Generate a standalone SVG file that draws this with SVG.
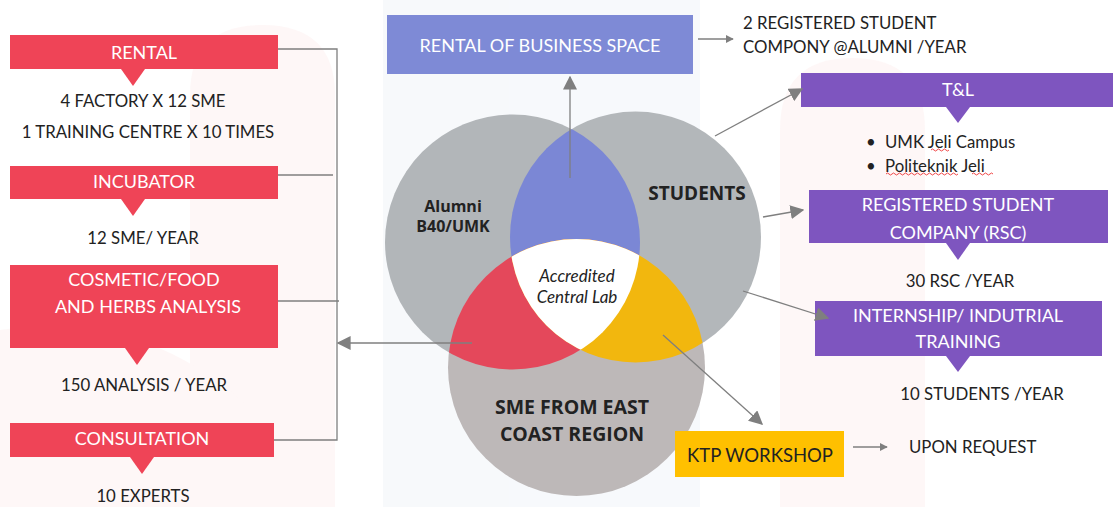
<svg xmlns="http://www.w3.org/2000/svg" width="1113" height="507" viewBox="0 0 1113 507">
<style>
.wt{font-family:Lato,"Liberation Sans",sans-serif;fill:#ffffff;font-size:18px;text-anchor:middle;dominant-baseline:central}
.bt{font-family:Lato,"Liberation Sans",sans-serif;fill:#222222;font-size:16.8px;text-anchor:middle;dominant-baseline:central}
.lt{font-family:Lato,"Liberation Sans",sans-serif;fill:#222222;font-size:16.8px;dominant-baseline:central}
.vb{font-family:"Open Sans","Liberation Sans",sans-serif;fill:#222222;font-weight:bold;text-anchor:middle;dominant-baseline:central}
.red{fill:#ef4457}
.pur{fill:#7e55bf}
.con{stroke:#7f7f7f;stroke-width:1.3;fill:none}
.sq{stroke:#e33;stroke-width:0.9;fill:none}
</style>
<defs>
<marker id="ah" viewBox="0 0 10 10" refX="9" refY="5" markerWidth="8" markerHeight="8" orient="auto" markerUnits="userSpaceOnUse"><path d="M0,0 L10,5 L0,10 z" fill="#7f7f7f"/></marker>
<marker id="ahb" viewBox="0 0 10 10" refX="9" refY="5" markerWidth="14" markerHeight="14" orient="auto" markerUnits="userSpaceOnUse"><path d="M0,0 L10,5 L0,10 z" fill="#7f7f7f"/></marker>
<clipPath id="cL"><circle cx="512.5" cy="242" r="127.5"/></clipPath>
<clipPath id="cR"><circle cx="635.5" cy="237" r="125.5"/></clipPath>
</defs>
<rect width="1113" height="507" fill="#ffffff"/>
<g id="watermark" opacity="0.45">
<path d="M190,507 L190,95 Q190,25 262,25 Q335,25 335,95 L335,507 z" fill="#fdeeee"/>
<path d="M0,330 Q200,300 330,507 L0,507 z" fill="#fdeeee"/>
<rect x="383" y="0" width="317" height="507" fill="#eef2f8"/>
<path d="M780,507 L780,130 Q780,58 852,58 Q925,58 925,130 L925,507 z" fill="#fdeeee"/>
</g>
<g id="venn">
<circle cx="512.5" cy="242" r="127.5" fill="#b2b6b9"/>
<circle cx="635.5" cy="237" r="125.5" fill="#b3b7ba"/>
<circle cx="576.5" cy="367.5" r="128.5" fill="#bdb8b8"/>
<circle cx="635.5" cy="237" r="125.5" fill="#7b87d5" clip-path="url(#cL)"/>
<circle cx="576.5" cy="367.5" r="128.5" fill="#e4485b" clip-path="url(#cL)"/>
<circle cx="576.5" cy="367.5" r="128.5" fill="#f2b70e" clip-path="url(#cR)"/>
<g clip-path="url(#cL)"><circle cx="576.5" cy="367.5" r="128.5" fill="#ffffff" clip-path="url(#cR)"/></g>
<text class="vb" x="453" y="206" font-size="16">Alumni</text>
<text class="vb" x="453" y="226" font-size="16">B40/UMK</text>
<text class="vb" x="697" y="193" font-size="19">STUDENTS</text>
<text class="vb" x="572" y="406" font-size="19.5">SME FROM EAST</text>
<text class="vb" x="572" y="433" font-size="19.5">COAST REGION</text>
<text x="577" y="275" font-family="Lato,'Liberation Sans',sans-serif" font-style="italic" font-size="17" fill="#222" text-anchor="middle" dominant-baseline="central">Accredited</text>
<text x="577" y="296" font-family="Lato,'Liberation Sans',sans-serif" font-style="italic" font-size="17" fill="#222" text-anchor="middle" dominant-baseline="central">Central Lab</text>
</g>
<g id="rental">
<rect class="red" x="10" y="35" width="268" height="34"/>
<path class="red" d="M121,69 L145,69 L133,86 z"/>
<text class="wt" x="144" y="52">RENTAL</text>
<text class="bt" x="143" y="100">4 FACTORY X 12 SME</text>
<text class="bt" x="148" y="131">1 TRAINING CENTRE X 10 TIMES</text>
</g>
<g id="incubator">
<rect class="red" x="10" y="166" width="268" height="33"/>
<path class="red" d="M121,199 L145,199 L133,216 z"/>
<text class="wt" x="144" y="181">INCUBATOR</text>
<text class="bt" x="143" y="237">12 SME/ YEAR</text>
</g>
<g id="cosmetic">
<rect class="red" x="10" y="265" width="268" height="83"/>
<path class="red" d="M125,348 L149,348 L137,365 z"/>
<text class="wt" x="144" y="279">COSMETIC/FOOD</text>
<text class="wt" x="148" y="306">AND HERBS ANALYSIS</text>
<text class="bt" x="144" y="384">150 ANALYSIS / YEAR</text>
</g>
<g id="consultation">
<rect class="red" x="10" y="423" width="264" height="34"/>
<path class="red" d="M130,457 L154,457 L142,474 z"/>
<text class="wt" x="142" y="438">CONSULTATION</text>
<text class="bt" x="143" y="495">10 EXPERTS</text>
</g>
<g id="business-space">
<rect x="387" y="15" width="306" height="59" fill="#7e8ad6"/>
<text class="wt" x="540" y="45">RENTAL OF BUSINESS SPACE</text>
<text class="lt" x="743" y="22">2 REGISTERED STUDENT</text>
<text class="lt" x="743" y="46">COMPONY @ALUMNI /YEAR</text>
</g>
<g id="tl">
<rect class="pur" x="801" y="73" width="312" height="34"/>
<path class="pur" d="M946,107 L970,107 L958,123 z"/>
<text class="wt" x="958" y="89">T&amp;L</text>
<text class="lt" x="866" y="141">•</text>
<text class="lt" x="885" y="141">UMK Jeli Campus</text>
<text class="lt" x="866" y="165">•</text>
<text class="lt" x="885" y="165">Politeknik Jeli</text>
<path class="sq" d="M931,150 q1.5,-2 3,0 t3,0 t3,0 t3,0 t3,0 t3,0"/>
<path class="sq" d="M886,174 q1.5,-2 3,0 t3,0 t3,0 t3,0 t3,0 t3,0 t3,0 t3,0 t3,0 t3,0 t3,0 t3,0 t3,0 t3,0 t3,0 t3,0 t3,0 t3,0 t3,0 t3,0 t3,0 t3,0 t3,0 t3,0"/>
<path class="sq" d="M972,174 q1.5,-2 3,0 t3,0 t3,0 t3,0 t3,0 t3,0 t3,0"/>
</g>
<g id="rsc">
<rect class="pur" x="809" y="190" width="299" height="53"/>
<path class="pur" d="M946,243 L970,243 L958,260 z"/>
<text class="wt" x="958" y="204">REGISTERED STUDENT</text>
<text class="wt" x="958" y="232">COMPANY (RSC)</text>
<text class="bt" x="960" y="280">30 RSC /YEAR</text>
</g>
<g id="internship">
<rect class="pur" x="815" y="301" width="287" height="55"/>
<path class="pur" d="M946,356 L970,356 L958,372 z"/>
<text class="wt" x="958" y="315">INTERNSHIP/ INDUTRIAL</text>
<text class="wt" x="958" y="341">TRAINING</text>
<text class="bt" x="982" y="393">10 STUDENTS /YEAR</text>
</g>
<g id="ktp">
<rect x="675" y="431" width="169" height="46" fill="#ffc000"/>
<text x="760" y="455" font-family="Lato,'Liberation Sans',sans-serif" font-size="18.5" fill="#222" text-anchor="middle" dominant-baseline="central">KTP WORKSHOP</text>
<text class="lt" x="909" y="446">UPON REQUEST</text>
</g>
<g id="connectors">
<path class="con" d="M278,49 L337,49 L337,440 L274,440"/>
<path class="con" d="M278,175 L333,175"/>
<path class="con" d="M278,301 L339,301"/>
<path class="con" d="M472,343 L338,343" marker-end="url(#ahb)"/>
<path class="con" d="M570,178 L570,77" marker-end="url(#ahb)"/>
<path class="con" d="M698,39 L733,39" marker-end="url(#ah)"/>
<path class="con" d="M715,136 L802,89" marker-end="url(#ahb)"/>
<path class="con" d="M763,217 L803,210" marker-end="url(#ahb)"/>
<path class="con" d="M743,291 L828,318" marker-end="url(#ahb)"/>
<path class="con" d="M663,335 L762,424" marker-end="url(#ahb)"/>
<path class="con" d="M853,447 L887,447" marker-end="url(#ah)"/>
</g>
</svg>
